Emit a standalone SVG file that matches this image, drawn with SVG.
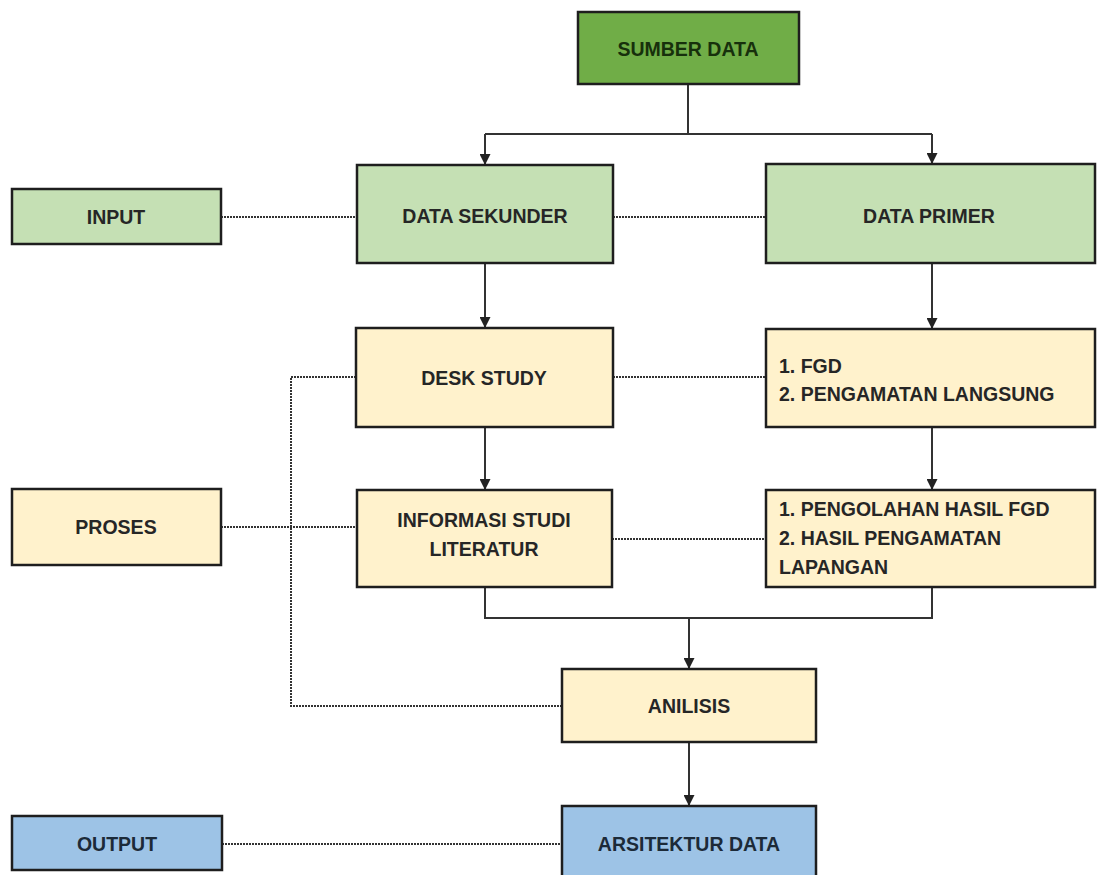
<svg xmlns="http://www.w3.org/2000/svg" width="1097" height="875" viewBox="0 0 1097 875">
<style>
.box{stroke:#1e1e1e;stroke-width:2.5}
.g1{fill:#70AD47}
.g2{fill:#C5E0B4}
.y{fill:#FFF2CC}
.b{fill:#9DC3E6}
.t{font-family:"Liberation Sans",Arial,sans-serif;font-weight:bold;font-size:19.5px;fill:#262626}
.c{text-anchor:middle}
.ln{fill:none;stroke:#333;stroke-width:2}
.dot{fill:none;stroke:#333;stroke-width:2;stroke-dasharray:2 1}
</style>
<defs>
<marker id="ah" viewBox="0 0 10 10" refX="10" refY="5" markerWidth="5.5" markerHeight="5.5" orient="auto" markerUnits="strokeWidth">
<path d="M0,0 L10,5 L0,10 z" fill="#222"/>
</marker>
</defs>
<rect width="1097" height="875" fill="#ffffff"/>
<g id="connectors">
<path class="ln" d="M688,84 V134"/>
<path class="ln" d="M485,134 H932"/>
<path class="ln" d="M485,134 V165" marker-end="url(#ah)"/>
<path class="ln" d="M932,134 V164" marker-end="url(#ah)"/>
<path class="ln" d="M485,263 V328" marker-end="url(#ah)"/>
<path class="ln" d="M932,264 V329" marker-end="url(#ah)"/>
<path class="ln" d="M485,427 V490" marker-end="url(#ah)"/>
<path class="ln" d="M932,427 V490" marker-end="url(#ah)"/>
<path class="ln" d="M485,587 V618 H932 V587"/>
<path class="ln" d="M689,618 V669" marker-end="url(#ah)"/>
<path class="ln" d="M689,742 V806" marker-end="url(#ah)"/>
<path class="dot" d="M221,217 H357"/>
<path class="dot" d="M613,217 H766"/>
<path class="dot" d="M613,377 H766"/>
<path class="dot" d="M612,539 H766"/>
<path class="dot" d="M221,527 H357"/>
<path class="dot" d="M356,377 H291 V706 H562"/>
<path class="dot" d="M222,844 H562"/>
</g>
<g id="sumber-data">
<rect class="box g1" x="578" y="12" width="221" height="72"/>
<text class="t c" x="688" y="56" style="fill:#17300c">SUMBER DATA</text>
</g>
<g id="input">
<rect class="box g2" x="12" y="189" width="209" height="55"/>
<text class="t c" x="116" y="224">INPUT</text>
</g>
<g id="data-sekunder">
<rect class="box g2" x="357" y="165" width="256" height="98"/>
<text class="t c" x="485" y="223">DATA SEKUNDER</text>
</g>
<g id="data-primer">
<rect class="box g2" x="766" y="164" width="329" height="99"/>
<text class="t c" x="929" y="223">DATA PRIMER</text>
</g>
<g id="desk-study">
<rect class="box y" x="356" y="328" width="257" height="99"/>
<text class="t c" x="484" y="385">DESK STUDY</text>
</g>
<g id="fgd">
<rect class="box y" x="766" y="329" width="329" height="98"/>
<text class="t" x="779" y="373">1. FGD</text>
<text class="t" x="779" y="401">2. PENGAMATAN LANGSUNG</text>
</g>
<g id="proses">
<rect class="box y" x="12" y="489" width="209" height="76"/>
<text class="t c" x="116" y="534">PROSES</text>
</g>
<g id="informasi">
<rect class="box y" x="357" y="490" width="255" height="97"/>
<text class="t c" x="484" y="527">INFORMASI STUDI</text>
<text class="t c" x="484" y="556">LITERATUR</text>
</g>
<g id="pengolahan">
<rect class="box y" x="766" y="490" width="329" height="97"/>
<text class="t" x="779" y="516">1. PENGOLAHAN HASIL FGD</text>
<text class="t" x="779" y="545">2. HASIL PENGAMATAN</text>
<text class="t" x="779" y="574">LAPANGAN</text>
</g>
<g id="anilisis">
<rect class="box y" x="562" y="669" width="254" height="73"/>
<text class="t c" x="689" y="713">ANILISIS</text>
</g>
<g id="output">
<rect class="box b" x="12" y="816" width="210" height="54"/>
<text class="t c" x="117" y="851" style="fill:#1c2a38">OUTPUT</text>
</g>
<g id="arsitektur-data">
<rect class="box b" x="562" y="806" width="254" height="82"/>
<text class="t c" x="689" y="851" style="fill:#1c2a38">ARSITEKTUR DATA</text>
</g>
</svg>
